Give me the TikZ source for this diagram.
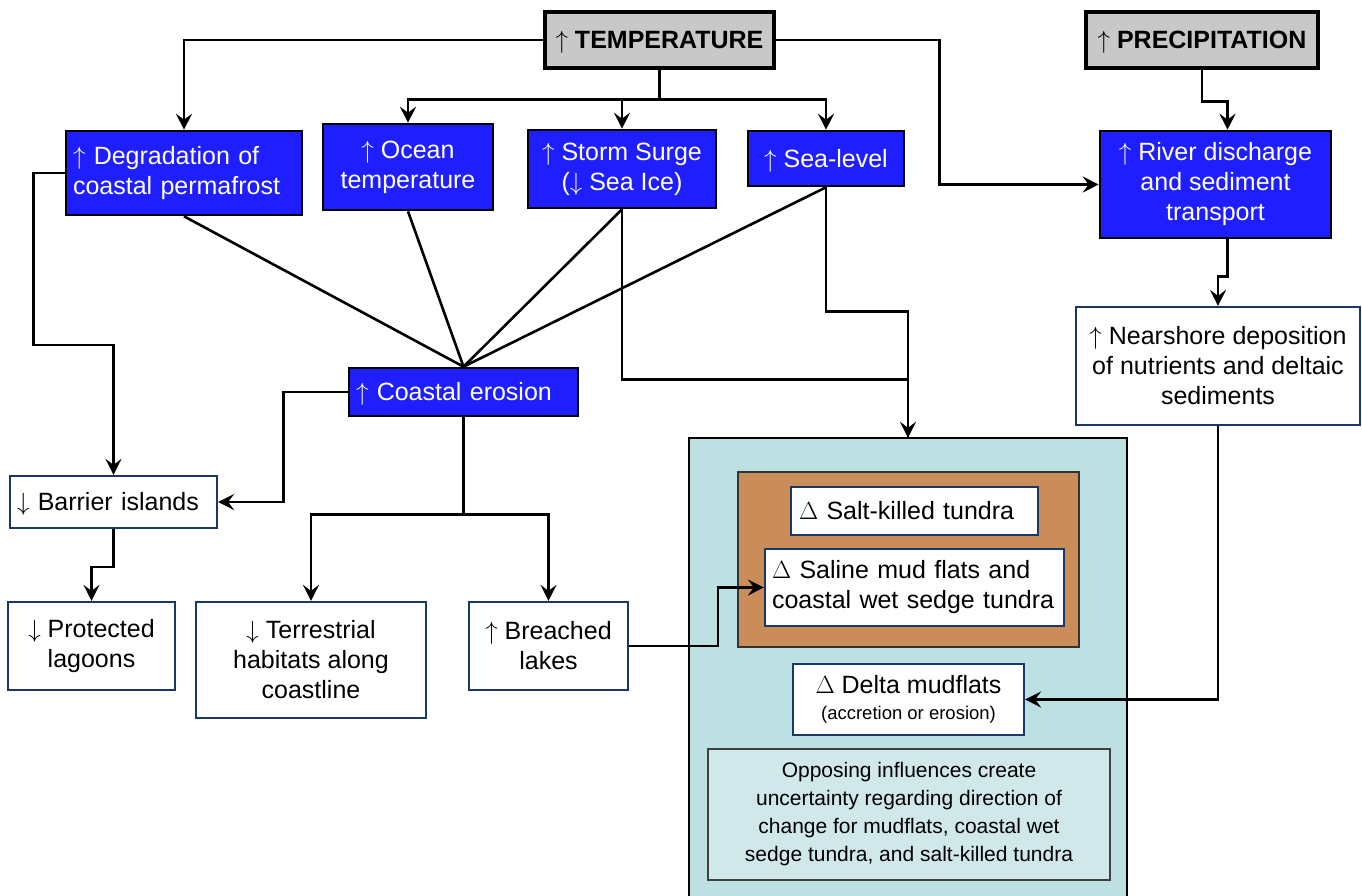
\documentclass[tikz,border=0pt]{standalone}
\usepackage{fontspec}
\setmainfont{Liberation Sans}
\usetikzlibrary{arrows.meta,calc}
\definecolor{boxblue}{RGB}{30,30,255}
\definecolor{boxgray}{RGB}{200,200,200}
\definecolor{navyline}{RGB}{25,55,105}
\definecolor{panelteal}{RGB}{189,224,227}
\definecolor{brownbox}{RGB}{202,140,88}
\definecolor{noteteal}{RGB}{208,232,234}
\newcommand{\UP}{\smash{$\uparrow$}}
\newcommand{\DN}{\smash{$\downarrow$}}
\newcommand{\DL}{$\Delta$}
\begin{document}
\begin{tikzpicture}[x=1pt,y=-1pt,
  base/.style={inner sep=0pt, align=center, font=\fontsize{25}{30}\selectfont},
  bluebox/.style={base, fill=boxblue, draw=black, line width=2.6pt, text=white},
  graybox/.style={base, fill=boxgray, draw=black, line width=3.2pt, font=\fontsize{25}{30}\selectfont\bfseries},
  whitebox/.style={base, fill=white, draw=navyline, line width=2.2pt},
  sz/.style 2 args={minimum width=#1pt, minimum height=#2pt},
  conn/.style={line width=2.6pt, draw=black},
  arr/.style={conn, -{Stealth[length=16pt,width=16pt,inset=6pt]}},
]
\useasboundingbox (0,0) rectangle (1362,895);

% panels
\node[fill=panelteal, draw=none, sz={438}{460}, inner sep=0pt] (panel) at (908,668) {};
\draw[line width=2.5pt] (panel.south west) -- (panel.north west) -- (panel.north east) -- (panel.south east);
\node[fill=brownbox, draw=black!80, line width=1.5pt, sz={341}{175}, inner sep=0pt] (brown) at (908.5,559.5) {};

% top row
\node[graybox, sz={229}{56}] (temp) at (659.5,40) {\UP{} TEMPERATURE};
\node[graybox, sz={232}{56}] (precip) at (1202,40) {\UP{} PRECIPITATION};

\node[bluebox, sz={236}{84}, text width=222pt, align=left, inner xsep=7pt] (degr) at (184,173) {\UP{} Degradation of\\coastal permafrost};
\node[bluebox, sz={170}{86}] (ocean) at (408,167) {\UP{} Ocean\\temperature};
\node[bluebox, sz={188}{78}] (storm) at (622,169) {\UP{} Storm Surge\\(\DN{} Sea Ice)};
\node[bluebox, sz={156}{55}] (sea) at (826,158.5) {\UP{} Sea-level};
\node[bluebox, sz={231}{107}] (river) at (1215.5,184.5) {\UP{} River discharge\\and sediment\\transport};
\node[whitebox, sz={284}{118}] (near) at (1218,366) {\UP{} Nearshore deposition\\of nutrients and deltaic\\sediments};

\node[bluebox, sz={229}{48}, text width=215pt, align=left, inner xsep=7pt] (eros) at (463.5,392) {\UP{} Coastal erosion};
\node[whitebox, sz={207}{52}, text width=193pt, align=left, inner xsep=7pt] (barrier) at (113.5,502) {\DN{} Barrier islands};
\node[whitebox, sz={167}{88}] (lagoons) at (91.5,646) {\DN{} Protected\\lagoons};
\node[whitebox, sz={230}{116}] (terr) at (311,660) {\DN{} Terrestrial\\habitats along\\coastline};
\node[whitebox, sz={159}{88}] (breached) at (548.5,646) {\UP{} Breached\\lakes};

\node[whitebox, sz={247}{48}, text width=231pt, align=left, inner xsep=8pt] (salt) at (914.5,511) {\DL{} Salt-killed tundra};
\node[whitebox, sz={299}{77}, text width=285pt, align=left, inner xsep=7pt] (saline) at (914.5,587.5) {\DL{} Saline mud flats and\\coastal wet sedge tundra};
\node[whitebox, sz={231}{71}] (delta) at (908.5,699.5) {\DL{} Delta mudflats\\[-4pt]{\fontsize{18.5}{22}\selectfont (accretion or erosion)}};
\node[base, fill=noteteal, draw=black!75, line width=1.3pt, sz={402}{131}, font=\fontsize{21}{28}\selectfont] (note) at (909,814.5) {Opposing influences create\\uncertainty regarding direction of\\change for mudflats, coastal wet\\sedge tundra, and salt-killed tundra};

% connectors
\draw[arr] (temp.west) -| (degr.north);
\draw[conn] (temp.south) -- ++(0,30) coordinate (tb);
\draw[arr] (tb) -| (ocean.north);
\draw[arr] (tb) -| (storm.north);
\draw[arr] (tb) -| (sea.north);
\draw[arr] (temp.east) -- ++(164,0) |- (river.west);
\draw[arr] (precip.south) -- ++(0,32) -| ([xshift=12pt]river.north);
\draw[arr] ([xshift=12pt]river.south) -- ++(0,37) -| (near.north);
\draw[arr] (near.south) |- (delta.east);

\draw[conn] (degr.south) -- (eros.north);
\draw[conn] (ocean.south) -- (eros.north);
\draw[conn] (storm.south) -- (eros.north);
\draw[conn] (sea.south) -- (eros.north);

\draw[conn] (sea.south) -- ++(0,124) -| (panel.north);
\draw[arr] (storm.south) -- ++(0,170) -| (panel.north);

\draw[arr] (degr.west) -- ++(-31,0) -- ++(0,172) -| (barrier.north);
\draw[arr] (eros.west) -- ++(-64,0) |- (barrier.east);
\draw[conn] (eros.south) -- ++(0,97) coordinate (eb);
\draw[arr] (eb) -| (terr.north);
\draw[arr] (eb) -| (breached.north);
\draw[arr] (barrier.south) -- ++(0,38) -| (lagoons.north);
\draw[arr] (breached.east) -- ++(89,0) |- (saline.west);
\end{tikzpicture}
\end{document}
